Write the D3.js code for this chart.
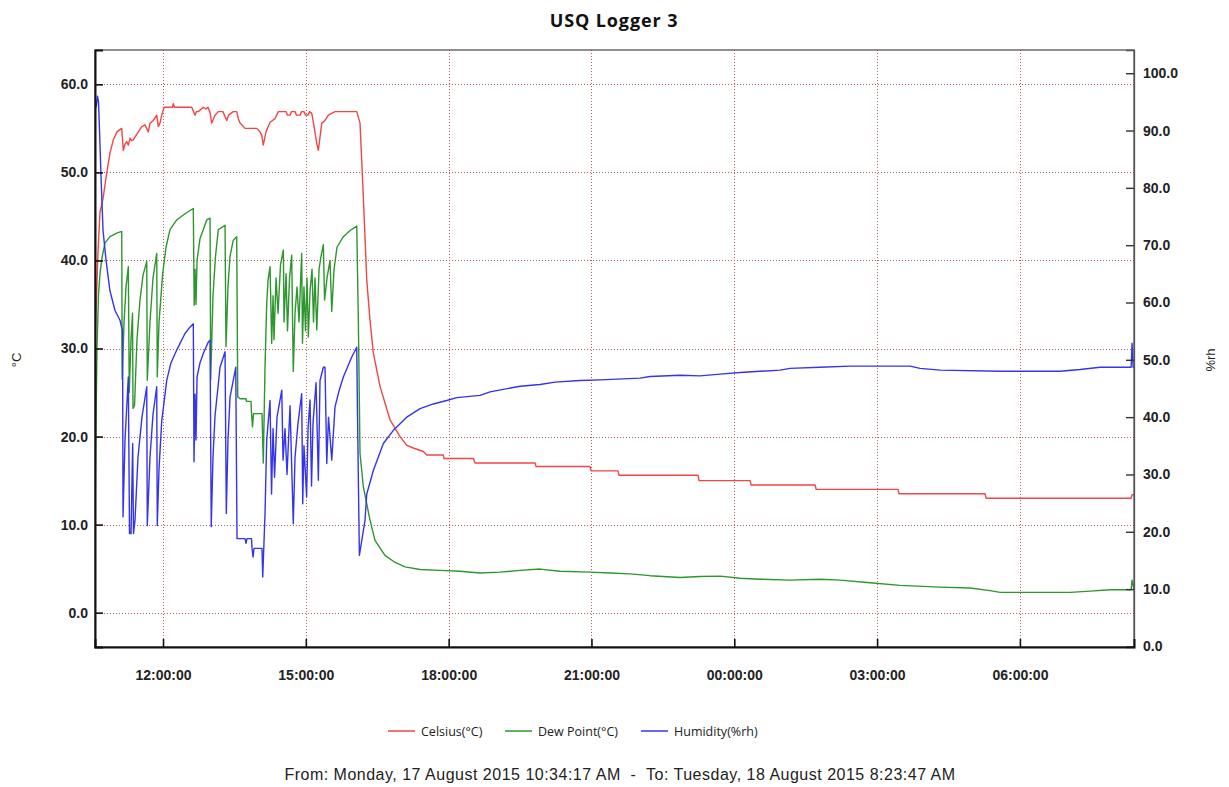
<!DOCTYPE html>
<html>
<head>
<meta charset="utf-8">
<script src="https://cdn.jsdelivr.net/npm/d3@7"></script>
<style>
  body { margin: 0; background: #ffffff; }
  svg { display: block; }
</style>
</head>
<body>
<svg id="chart" width="1229" height="787"></svg>
<script>
// Logging window
const startTime = new Date(2015, 7, 17, 10, 34, 17);
const endTime = new Date(2015, 7, 18, 8, 23, 47);

// Readings as [minutes since logging started, value]
const celsius = [
  [0, 30], [1.9, 35.9], [3.8, 41], [6.3, 45.5], [10.1, 47.0], [14.7, 49.9], [18.9, 52.2],
  [23.1, 53.7], [27.7, 54.6], [33.7, 55.0], [35.7, 52.5], [37.8, 53.2], [40.0, 53.5],
  [42.0, 53.1], [44.1, 53.9], [46.0, 53.6], [48.3, 53.7], [50.4, 54.0], [54.6, 54.6],
  [58.9, 55.2], [63.0, 55.4], [67.2, 54.6], [69.3, 55.6], [73.5, 55.9], [77.8, 56.5],
  [79.8, 55.2], [81.9, 55.6], [84.1, 56.5], [87.0, 57.4], [97.7, 57.4], [98.7, 57.8],
  [100.2, 57.4], [121.9, 57.4], [126.1, 56.5], [127.9, 56.9], [130.2, 56.9], [136.5, 57.4],
  [139.9, 57.2], [142.4, 57.4], [145.0, 56.8], [147.1, 55.6], [151.3, 56.5], [155.4, 56.9],
  [161.3, 56.9], [166.0, 55.9], [168.3, 56.5], [174.3, 56.9], [178.6, 56.9], [180.6, 56.1],
  [182.8, 55.6], [189.1, 55.0], [203.8, 55.0], [208.0, 54.6], [210.1, 54.2], [212.1, 53.1],
  [215.5, 54.6], [220.6, 55.7], [226.9, 56.1], [231.1, 56.9], [240.8, 56.9], [242.6, 56.5],
  [245.8, 56.5], [247.7, 56.9], [252.1, 56.9], [254.0, 56.5], [258.4, 56.5], [260.3, 56.9],
  [263.4, 56.9], [265.3, 56.5], [268.5, 56.5], [270.4, 56.9], [273.2, 56.7], [275.2, 55.7],
  [279.5, 53.3], [281.5, 52.5], [285.8, 55.6], [289.9, 55.9], [294.1, 56.5], [302.5, 56.9],
  [329.9, 56.9], [334.0, 55.6], [337.8, 48.0], [342.5, 37.8], [346.6, 33.2], [350.8, 29.5],
  [359.2, 25.7], [371.8, 21.9], [384.5, 20.0], [392.9, 19.0], [401.2, 18.7], [413.8, 18.3],
  [418.1, 17.9], [439.0, 17.9], [439.9, 17.5], [476.9, 17.5], [479.0, 17.0], [554.6, 17.0],
  [555.9, 16.6], [623.9, 16.6], [625.2, 16.1], [659.2, 16.1], [660.5, 15.6], [760.1, 15.6],
  [761.3, 15.0], [825.6, 15.0], [826.9, 14.5], [907.6, 14.5], [908.9, 14.0], [1012.2, 14.0],
  [1013.4, 13.5], [1121.8, 13.5], [1123.1, 13.0], [1305.9, 13.0], [1307.1, 13.4], [1309.7, 13.4]
];

const dewPoint = [
  [0, 10], [1.3, 22], [2.5, 30], [4.4, 36], [6.3, 38.5], [8.8, 40.3], [12.6, 42.0],
  [18.9, 42.7], [27.4, 43.1], [33.7, 43.3], [34.3, 26.5], [36.6, 33], [39.1, 37],
  [42.0, 39.3], [43.2, 25], [45.4, 31], [47.3, 34], [47.9, 23.2], [49.8, 23.5], [52.9, 31],
  [56.7, 35.5], [60.5, 38.3], [65.2, 39.9], [65.9, 26.4], [69.3, 33], [73.1, 38], [77.8, 40.8],
  [78.5, 26.8], [80.7, 33], [85.3, 38.5], [89.5, 41.5], [94.5, 43.5], [103.0, 44.6],
  [113.4, 45.3], [123.9, 45.9], [125.0, 34.9], [126.1, 39], [127.3, 35], [128.6, 40],
  [132.4, 42.5], [140.8, 44.6], [145.0, 44.8], [145.8, 26.4], [148.7, 36], [151.9, 40.5],
  [155.4, 43.5], [163.9, 44.0], [165.1, 30.2], [167.6, 37], [170.2, 40.5], [174.3, 42.3],
  [178.6, 42.7], [179.9, 24.5], [182.8, 24.3], [190.3, 24.3], [190.9, 24.0], [196.6, 24.0],
  [197.3, 22.6], [198.5, 21.1], [199.8, 22.6], [210.5, 22.6], [212.1, 17.0], [214.3, 28],
  [216.4, 35], [218.1, 37.8], [220.6, 39.3], [222.7, 30.6], [224.4, 36], [225.6, 31],
  [228.2, 38], [230.7, 34], [233.8, 39.5], [237.4, 41.2], [238.2, 33], [240.8, 38.5],
  [242.6, 32], [245.2, 38], [247.9, 40.6], [249.9, 27.4], [252.1, 34], [254.6, 37],
  [257.1, 33], [260.5, 40.8], [261.5, 30.6], [263.4, 37], [265.3, 32], [267.2, 38],
  [268.9, 31.3], [271.0, 36.5], [273.5, 39], [275.4, 33], [277.3, 38], [279.5, 32.1],
  [282.4, 39], [284.9, 40.5], [287.8, 41.8], [289.3, 35.5], [292.4, 38], [296.2, 40.0],
  [298.4, 34.2], [301.3, 39], [305.0, 41.5], [313.0, 42.7], [321.5, 43.4], [329.9, 43.9],
  [331.9, 33.2], [334.0, 18.1], [338.2, 14.3], [346.6, 10.5], [352.9, 8.2], [365.5, 6.5],
  [378.2, 5.7], [390.8, 5.2], [409.7, 4.9], [434.9, 4.8], [460.1, 4.7], [485.3, 4.5],
  [510.5, 4.6], [535.7, 4.8], [560.9, 4.95], [586.1, 4.7], [623.9, 4.6], [649.2, 4.5],
  [674.4, 4.4], [699.6, 4.2], [737.4, 4.0], [762.6, 4.1], [787.8, 4.15], [813.0, 3.9],
  [838.2, 3.8], [876.0, 3.7], [913.9, 3.8], [939.1, 3.7], [976.9, 3.4], [1014.7, 3.1],
  [1065.1, 2.9], [1102.9, 2.8], [1128.1, 2.5], [1140.8, 2.3], [1229.0, 2.3], [1254.2, 2.45],
  [1279.4, 2.6], [1305.9, 2.6], [1307.1, 3.7], [1309.7, 2.6]
];

const humidity = [
  [0, 93.5], [1.9, 94.5], [3.2, 96.0], [4.4, 95.0], [5.7, 90], [7.6, 82], [10.1, 72.6],
  [13.9, 67.4], [18.9, 62.0], [25.2, 58.6], [31.5, 56.9], [34.4, 55.2], [34.9, 46.4],
  [35.3, 22.6], [37.8, 36], [42.0, 47.0], [43.5, 19.7], [45.4, 19.7], [47.5, 35.4],
  [48.5, 19.7], [50.4, 22], [54.2, 33], [59.2, 40], [65.2, 45.3], [65.9, 21.1], [69.3, 33],
  [73.1, 40.5], [77.8, 45.3], [78.5, 21.1], [80.7, 31], [84.1, 39.3], [90.4, 46.4],
  [95.8, 49.5], [103.0, 51.7], [113.4, 54.6], [119.7, 55.7], [123.9, 56.3], [124.8, 32.2],
  [126.1, 44], [127.3, 36], [128.6, 47], [132.4, 49.5], [136.5, 51.1], [142.8, 53.1],
  [145.0, 53.4], [146.5, 20.9], [148.7, 33], [151.3, 40.3], [157.6, 48.7], [163.9, 51.4],
  [165.5, 23.2], [167.6, 36], [170.2, 43.5], [177.4, 48.7], [179.0, 18.8], [189.1, 18.8],
  [190.3, 18.0], [191.6, 18.8], [197.3, 18.8], [197.9, 17.1], [199.2, 15.6], [200.4, 17.1],
  [210.5, 17.1], [211.4, 12.1], [214.3, 23.2], [216.4, 36.0], [220.6, 42.9], [222.5, 26.6],
  [224.4, 38], [226.3, 29.5], [229.4, 40], [235.4, 44.7], [237.0, 32.5], [239.5, 38],
  [242.0, 30], [245.8, 42], [249.9, 21.4], [252.1, 33], [255.9, 39], [260.5, 44.1],
  [261.8, 24.9], [263.4, 35], [266.7, 26.1], [268.5, 38], [271.0, 43], [272.9, 28],
  [274.8, 39], [278.6, 46], [281.5, 29.0], [283.6, 46.4], [287.8, 48.7], [289.9, 48.7],
  [292.1, 31.9], [294.3, 40], [298.4, 32.5], [302.5, 41.8], [307.6, 44.6], [313.0, 47.0],
  [323.6, 50.5], [329.9, 52.2], [330.9, 40], [333.2, 15.9], [336.6, 18.8], [340.3, 22.0],
  [342.5, 26.6], [350.8, 30.7], [363.4, 35.4], [376.0, 37.7], [392.9, 40.0], [409.7, 41.5],
  [426.4, 42.3], [443.3, 42.9], [455.9, 43.4], [485.3, 43.8], [497.9, 44.4], [535.7, 45.4],
  [560.9, 45.7], [579.8, 46.1], [611.3, 46.4], [636.6, 46.5], [687.0, 46.8], [699.6, 47.1],
  [737.4, 47.3], [762.6, 47.2], [787.8, 47.5], [813.0, 47.8], [863.4, 48.2], [876.0, 48.5],
  [913.9, 48.7], [951.7, 48.9], [1027.3, 48.9], [1039.9, 48.5], [1065.1, 48.2],
  [1140.8, 48.0], [1216.4, 48.0], [1241.6, 48.3], [1266.8, 48.7], [1305.9, 48.7],
  [1307.1, 52.9], [1308.4, 48.7], [1309.7, 48.7]
];

const temperatureTicks = [0, 10, 20, 30, 40, 50, 60];
const humidityTicks = [0, 10, 20, 30, 40, 50, 60, 70, 80, 90, 100];
const seriesNames = ["Celsius(°C)", "Dew Point(°C)", "Humidity(%rh)"];
const seriesColors = ["#f04646", "#2e962e", "#3434ee"];

const chartTitle = "USQ Logger 3";
const rangeText = "From: Monday, 17 August 2015 10:34:17 AM  -  To: Tuesday, 18 August 2015 8:23:47 AM";

// Plot frame
const plot = { left: 95, right: 1134, top: 50, bottom: 647 };

const svg = d3.select("#chart");
const toDate = m => new Date(startTime.getTime() + m * 60000);

const x = d3.scaleTime().domain([startTime, endTime]).range([plot.left, plot.right]);
const yTemp = d3.scaleLinear().domain([-3.9, 63.9]).range([plot.bottom, plot.top]);
const yHum = d3.scaleLinear().domain([-0.1, 104.05]).range([plot.bottom, plot.top]);
const hourTicks = x.ticks(d3.timeHour.every(3));

// Title
svg.append("text")
  .attr("x", 614).attr("y", 27)
  .attr("text-anchor", "middle")
  .style("font-family", "'Open Sans', 'Noto Sans', sans-serif")
  .style("font-weight", "bold")
  .style("font-size", "18px")
  .style("letter-spacing", "0.9px")
  .attr("fill", "#111")
  .text(chartTitle);

// Dotted grid
const grid = svg.append("g").attr("stroke", "#b04040").attr("stroke-width", 1)
  .attr("stroke-dasharray", "1,2").attr("opacity", 0.85);
grid.selectAll("line.h").data(temperatureTicks).join("line")
  .attr("class", "h")
  .attr("x1", plot.left).attr("x2", plot.right)
  .attr("y1", d => Math.round(yTemp(d)) + 0.5).attr("y2", d => Math.round(yTemp(d)) + 0.5);
grid.selectAll("line.v").data(hourTicks).join("line")
  .attr("class", "v")
  .attr("y1", plot.top).attr("y2", plot.bottom)
  .attr("x1", d => Math.round(x(d)) + 0.5).attr("x2", d => Math.round(x(d)) + 0.5);

// Series lines
svg.append("clipPath").attr("id", "plot-clip").append("rect")
  .attr("x", plot.left).attr("y", plot.top)
  .attr("width", plot.right - plot.left).attr("height", plot.bottom - plot.top);

const lineTemp = d3.line().x(d => x(toDate(d[0]))).y(d => yTemp(d[1]));
const lineHum = d3.line().x(d => x(toDate(d[0]))).y(d => yHum(d[1]));

const lines = svg.append("g").attr("clip-path", "url(#plot-clip)")
  .attr("fill", "none").attr("stroke-width", 1.4).attr("stroke-linejoin", "round");
lines.append("path").attr("d", lineTemp(celsius)).attr("stroke", seriesColors[0]);
lines.append("path").attr("d", lineTemp(dewPoint)).attr("stroke", seriesColors[1]);
lines.append("path").attr("d", lineHum(humidity)).attr("stroke", seriesColors[2]);

// Frame
svg.append("rect")
  .attr("x", plot.left).attr("y", plot.top)
  .attr("width", plot.right - plot.left).attr("height", plot.bottom - plot.top)
  .attr("fill", "none").attr("stroke", "#555").attr("stroke-width", 1.3);

const tickFont = g => g.selectAll("text")
  .style("font-family", "'Liberation Sans', Arial, sans-serif")
  .style("font-weight", "bold")
  .style("font-size", "14px")
  .attr("fill", "#222");

// Left axis (°C)
svg.append("g")
  .attr("transform", `translate(${plot.left},0)`)
  .call(d3.axisLeft(yTemp).tickValues(temperatureTicks).tickFormat(d3.format(".1f"))
    .tickSize(-8).tickPadding(7))
  .call(g => g.select(".domain").attr("stroke", "#111").attr("stroke-width", 2))
  .call(g => g.selectAll(".tick line").attr("stroke", "#111").attr("stroke-width", 1.6))
  .call(tickFont);

// Right axis (%rh)
svg.append("g")
  .attr("transform", `translate(${plot.right},0)`)
  .call(d3.axisRight(yHum).tickValues(humidityTicks).tickFormat(d3.format(".1f"))
    .tickSize(-8).tickPadding(9))
  .call(g => g.select(".domain").attr("stroke", "#555").attr("stroke-width", 1.3))
  .call(g => g.selectAll(".tick line").attr("stroke", "#333").attr("stroke-width", 1.4))
  .call(tickFont);

// Bottom time axis
svg.append("g")
  .attr("transform", `translate(0,${plot.bottom})`)
  .call(d3.axisBottom(x).tickValues(hourTicks).tickFormat(d3.timeFormat("%H:%M:%S"))
    .tickSize(-8).tickPadding(23))
  .call(g => g.select(".domain").attr("stroke", "#111").attr("stroke-width", 2))
  .call(g => g.selectAll(".tick line").attr("stroke", "#111").attr("stroke-width", 1.6))
  .call(tickFont);

// Axis titles
const axisTitle = (tx, ty, label) => svg.append("text")
  .attr("transform", `translate(${tx},${ty}) rotate(-90)`)
  .attr("text-anchor", "middle")
  .style("font-family", "'Liberation Sans', Arial, sans-serif")
  .style("font-size", "13px")
  .attr("fill", "#222")
  .text(label);
axisTitle(21, 360, "°C");
axisTitle(1215, 360, "%rh");

// Legend
const legendX = [388, 505, 641];
const legend = svg.append("g");
seriesNames.forEach((name, i) => {
  legend.append("line")
    .attr("x1", legendX[i]).attr("x2", legendX[i] + 27)
    .attr("y1", 731).attr("y2", 731)
    .attr("stroke", seriesColors[i]).attr("stroke-width", 1.5);
  legend.append("text")
    .attr("x", legendX[i] + 33).attr("y", 735.5)
    .style("font-family", "'Open Sans', 'Noto Sans', sans-serif")
    .style("font-size", "12.5px")
    .attr("fill", "#222")
    .text(name);
});

// Logging range
svg.append("text")
  .attr("x", 620).attr("y", 780)
  .attr("text-anchor", "middle")
  .attr("xml:space", "preserve")
  .style("white-space", "pre")
  .style("font-family", "'Liberation Sans', Arial, sans-serif")
  .style("font-size", "16px")
  .style("letter-spacing", "0.5px")
  .attr("fill", "#222")
  .text(rangeText);
</script>
</body>
</html>
